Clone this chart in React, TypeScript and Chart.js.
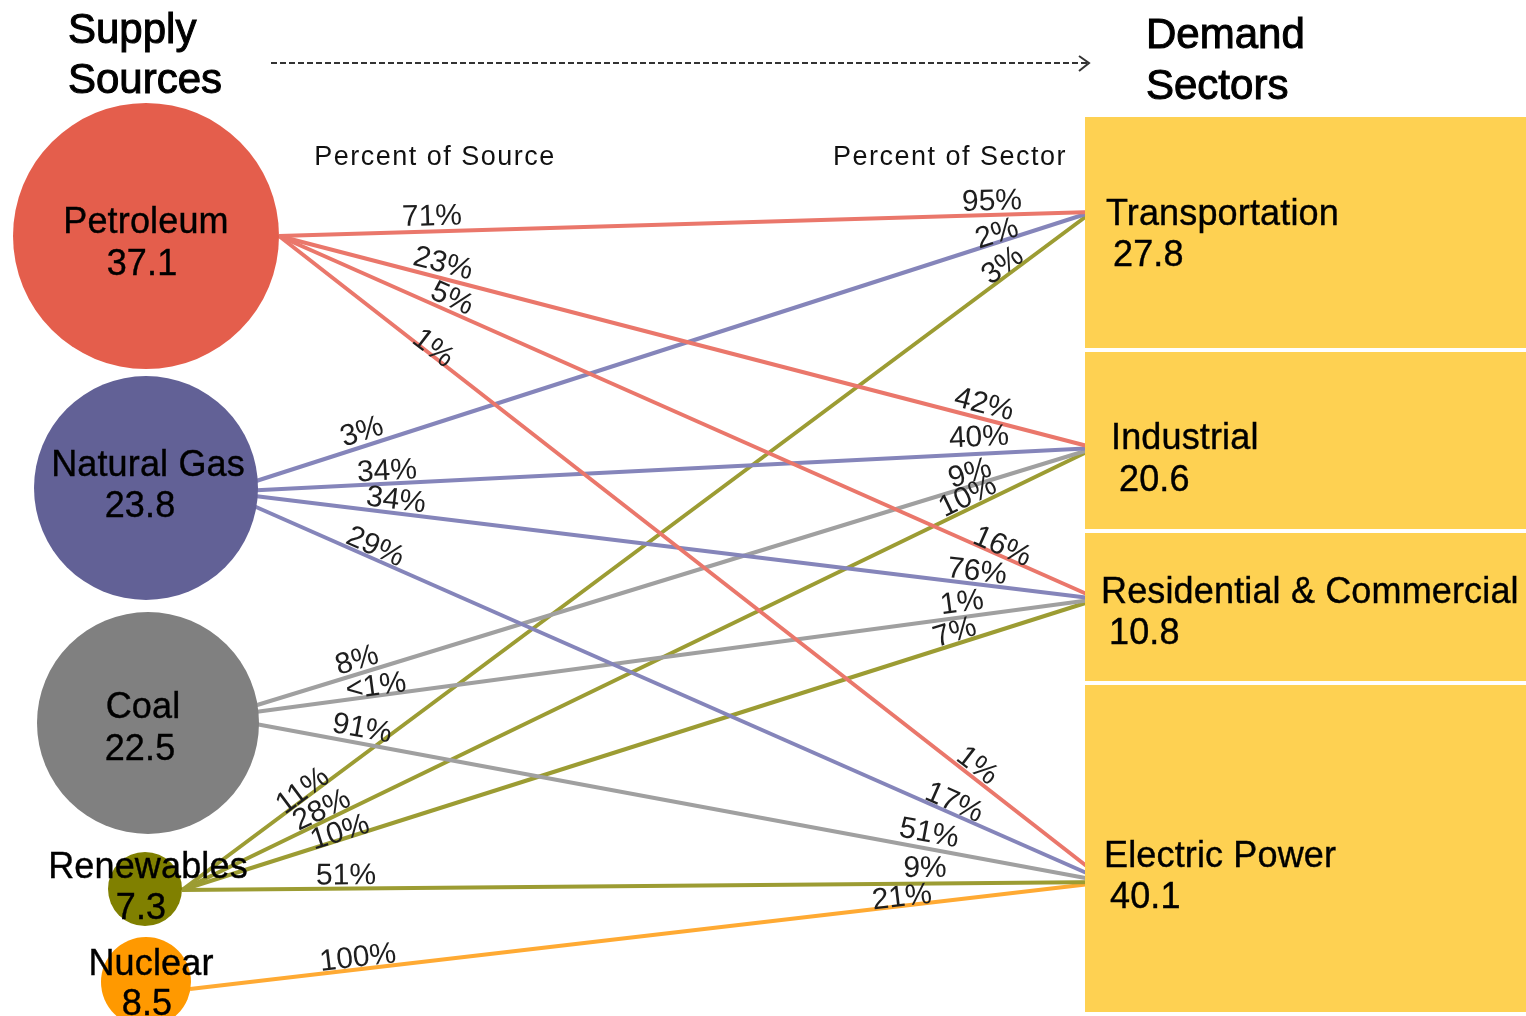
import React, { useEffect, useRef } from 'react';
import { Chart, registerables } from 'chart.js';

Chart.register(...registerables);

// ---------------- DATA ----------------
const sources = ['Petroleum', 'Natural Gas', 'Coal', 'Renewables', 'Nuclear'];
const sourceTotals = ['37.1', '23.8', '22.5', '7.3', '8.5'];
const sectors = ['Transportation', 'Industrial', 'Residential & Commercial', 'Electric Power'];
const sectorTotals = ['27.8', '20.6', '10.8', '40.1'];

// flows: source index -> sector index
const flowSource = [0, 0, 0, 0, 1, 1, 1, 1, 2, 2, 2, 3, 3, 3, 3, 4];
const flowSector = [0, 1, 2, 3, 0, 1, 2, 3, 1, 2, 3, 0, 1, 2, 3, 3];
const pctOfSource = ['71%', '23%', '5%', '1%', '3%', '34%', '34%', '29%', '8%', '<1%', '91%', '11%', '28%', '10%', '51%', '100%'];
const pctOfSector = ['95%', '42%', '16%', '1%', '2%', '40%', '76%', '17%', '9%', '1%', '51%', '3%', '10%', '7%', '9%', '21%'];

const headingLeft = ['Supply', 'Sources'];
const headingRight = ['Demand', 'Sectors'];
const columnLeft = 'Percent of Source';
const columnRight = 'Percent of Sector';

// ---------------- LAYOUT (chart units = pixels) ----------------
const W = 1526;
const H = 1016;
const sourceCX = [146, 146, 148, 145, 146];
const sourceCY = [236, 488, 723, 889, 982];
const sourceR = [133, 112, 111, 37, 45];
const originX = [279, 222, 218, 182, 190];
const originY = [236, 492, 717, 890, 989];
const sourceNameX = [146, 148, 143, 148, 151];
const sourceNameY = [223, 466, 708, 868, 965];
const sourceValueX = [142, 140, 140, 141, 147];
const sourceValueY = [265, 507, 750, 909, 1005];

const sectorLeft = 1085;
const sectorRight = 1526;
const sectorTop = [117, 352, 533, 685];
const sectorBottom = [348, 529, 681, 1012];
const sectorPortX = [1092, 1095, 1098, 1107];
const sectorPortY = [212, 448, 599, 882];
const sectorNameX = [1106, 1111, 1101, 1104];
const sectorNameY = [215, 439, 593, 857];
const sectorValueX = [1113, 1119, 1109, 1110];
const sectorValueY = [256, 481, 634, 898];

const srcLabelX = [432, 443, 452, 433, 362, 387, 396, 375, 357, 376, 362, 303, 322, 340, 346, 358];
const srcLabelOff = [14.5, 14, 12.5, 6, 14, 12, 12.5, 11, 13, 9, 14.5, 7, 10.5, 6.7, 12.5, 11];
const secLabelX = [992, 984, 1002, 977, 997, 979, 977, 954, 970, 962, 929, 1003, 968, 955, 925, 902];
const secLabelOff = [13, 13.7, 8.6, 11.5, 8, 16, 12, 10.6, 12, 14, 15, 10, 11.3, 11, 15, 8];

// ---------------- STYLES ----------------
const sourceColors = ['#E45E4C', '#626196', '#808080', '#808000', '#FF9900'];
const flowColors = ['#EA776B', '#8585BA', '#A0A0A0', '#9C9C33', '#FFAA33'];
const sectorColor = '#FED152';
const FONT = '"Liberation Sans", Arial, sans-serif';

export default function App() {
  const ref = useRef<HTMLCanvasElement | null>(null);

  useEffect(() => {
    document.body.style.margin = '0';
    document.body.style.overflow = 'hidden';
    const canvas = ref.current;
    if (!canvas) return;

    const lineDatasets = flowSource.map((s, i) => {
      const k = flowSector[i];
      return {
        type: 'line' as const,
        data: [
          { x: originX[s], y: originY[s] },
          { x: sectorPortX[k], y: sectorPortY[k] },
        ],
        borderColor: flowColors[s],
        borderWidth: 4,
        pointRadius: 0,
        fill: false,
        tension: 0,
        order: 2,
      };
    });

    const bubbleDataset = {
      type: 'bubble' as const,
      data: sources.map((_, i) => ({ x: sourceCX[i], y: sourceCY[i], r: sourceR[i] })),
      backgroundColor: sourceColors,
      borderWidth: 0,
      order: 1,
    };

    const heavyText = (ctx: CanvasRenderingContext2D, text: string, x: number, y: number, w: number) => {
      ctx.fillText(text, x, y);
      if (w > 0) {
        ctx.lineWidth = w;
        ctx.strokeText(text, x, y);
      }
    };

    const overlay = {
      id: 'flowOverlay',
      beforeDatasetsDraw(chart: any) {
        const ctx = chart.ctx as CanvasRenderingContext2D;
        const X = (v: number) => chart.scales.x.getPixelForValue(v);
        const Y = (v: number) => chart.scales.y.getPixelForValue(v);
        ctx.save();
        ctx.fillStyle = '#000';
        ctx.strokeStyle = '#000';
        ctx.font = `42px ${FONT}`;
        ctx.textAlign = 'left';
        ctx.textBaseline = 'alphabetic';
        heavyText(ctx, headingLeft[0], X(68), Y(43), 1);
        heavyText(ctx, headingLeft[1], X(68), Y(93), 1);
        heavyText(ctx, headingRight[0], X(1146), Y(48), 1);
        heavyText(ctx, headingRight[1], X(1146), Y(99), 1);

        // dashed arrow
        ctx.strokeStyle = '#333';
        ctx.lineWidth = 2;
        ctx.setLineDash([6, 3]);
        ctx.beginPath();
        ctx.moveTo(X(271), Y(63));
        ctx.lineTo(X(1088), Y(63));
        ctx.stroke();
        ctx.setLineDash([]);
        ctx.beginPath();
        ctx.moveTo(X(1079), Y(56));
        ctx.lineTo(X(1089), Y(63));
        ctx.lineTo(X(1079), Y(71));
        ctx.stroke();

        ctx.fillStyle = '#111';
        ctx.font = `27px ${FONT}`;
        (ctx as any).letterSpacing = '1.5px';
        ctx.textAlign = 'center';
        ctx.textBaseline = 'middle';
        ctx.fillText(columnLeft, X(435), Y(158));
        ctx.fillText(columnRight, X(950), Y(158));
        (ctx as any).letterSpacing = '0px';
        ctx.restore();
      },
      afterDatasetsDraw(chart: any) {
        const ctx = chart.ctx as CanvasRenderingContext2D;
        const X = (v: number) => chart.scales.x.getPixelForValue(v);
        const Y = (v: number) => chart.scales.y.getPixelForValue(v);
        ctx.save();

        // sector boxes
        ctx.fillStyle = sectorColor;
        sectors.forEach((_, k) => {
          const x0 = X(sectorLeft);
          const x1 = X(sectorRight);
          const y0 = Y(sectorTop[k]);
          const y1 = Y(sectorBottom[k]);
          ctx.fillRect(x0, y0, x1 - x0, y1 - y0);
        });

        // sector labels
        ctx.fillStyle = '#000';
        ctx.strokeStyle = '#000';
        ctx.font = `36px ${FONT}`;
        (ctx as any).letterSpacing = '0.15px';
        ctx.textAlign = 'left';
        ctx.textBaseline = 'middle';
        sectors.forEach((name, k) => {
          heavyText(ctx, name, X(sectorNameX[k]), Y(sectorNameY[k]), 0.4);
          heavyText(ctx, sectorTotals[k], X(sectorValueX[k]), Y(sectorValueY[k]), 0.4);
        });

        // source labels
        ctx.textAlign = 'center';
        sources.forEach((name, i) => {
          heavyText(ctx, name, X(sourceNameX[i]), Y(sourceNameY[i]), 0.4);
          heavyText(ctx, sourceTotals[i], X(sourceValueX[i]), Y(sourceValueY[i]), 0.4);
        });
        (ctx as any).letterSpacing = '0px';

        // percent labels, rotated along each flow line
        ctx.font = `30px ${FONT}`;
        ctx.fillStyle = '#1e1e1e';
        const drawOnLine = (i: number, lx: number, off: number, text: string) => {
          const s = flowSource[i];
          const k = flowSector[i];
          const x0 = X(originX[s]);
          const y0 = Y(originY[s]);
          const x1 = X(sectorPortX[k]);
          const y1 = Y(sectorPortY[k]);
          const ang = Math.atan2(y1 - y0, x1 - x0);
          const nx = Math.sin(ang);
          const ny = -Math.cos(ang);
          const bx = X(lx) - nx * off;
          const t = (bx - x0) / (x1 - x0);
          const by = y0 + t * (y1 - y0);
          ctx.save();
          ctx.translate(bx + nx * off, by + ny * off);
          ctx.rotate(ang);
          ctx.fillText(text, 0, 0);
          ctx.restore();
        };
        flowSource.forEach((_, i) => {
          drawOnLine(i, srcLabelX[i], srcLabelOff[i], pctOfSource[i]);
          drawOnLine(i, secLabelX[i], secLabelOff[i], pctOfSector[i]);
        });
        ctx.restore();
      },
    };

    const chart = new Chart(canvas, {
      type: 'bubble',
      data: { datasets: [bubbleDataset as any, ...(lineDatasets as any[])] },
      options: {
        animation: false,
        responsive: true,
        maintainAspectRatio: false,
        devicePixelRatio: 1,
        events: [],
        layout: { padding: 0, autoPadding: false },
        scales: {
          x: { type: 'linear', min: 0, max: W, display: false },
          y: { type: 'linear', min: 0, max: H, reverse: true, display: false },
        },
        plugins: {
          legend: { display: false },
          tooltip: { enabled: false },
        },
      },
      plugins: [overlay],
    });

    return () => chart.destroy();
  }, []);

  return (
    <div style={{ position: 'fixed', left: 0, top: 0, width: W, height: H, background: '#fff' }}>
      <canvas ref={ref} />
    </div>
  );
}
